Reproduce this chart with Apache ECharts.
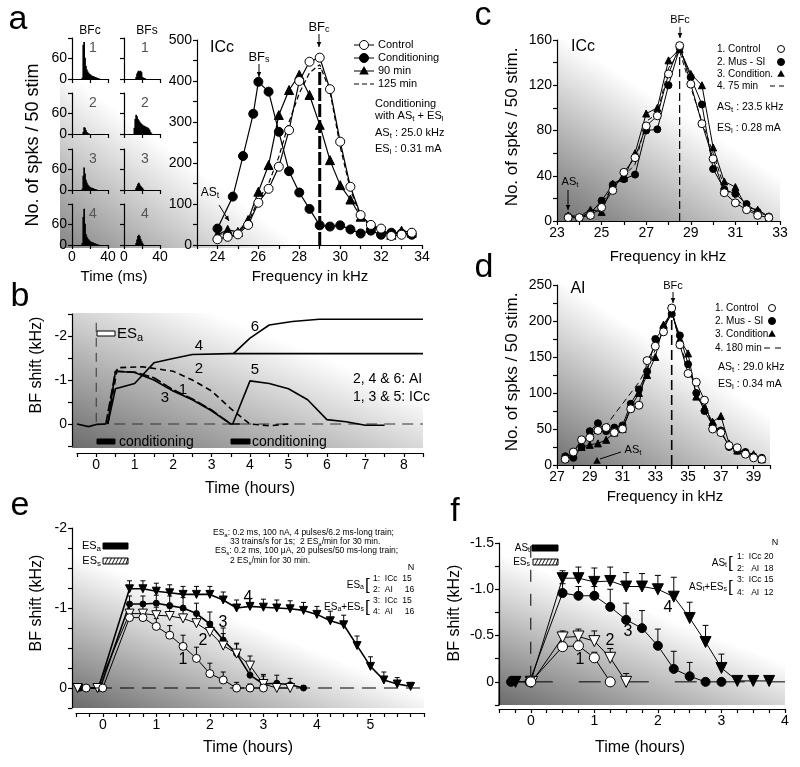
<!DOCTYPE html>
<html><head><meta charset="utf-8">
<script src="https://cdn.jsdelivr.net/npm/echarts/dist/echarts.min.js"></script>
<style>html,body{margin:0;padding:0;background:#fff}#c{width:800px;height:767px}</style>
</head><body><div id="c"></div>
<script>
// ================= DATA =================
// Panel a: PST histograms (spikes per 1-ms bin, first bin starts at histStartMs)
const histStartMs = 10;
const histBFc1 = [0,4,100,108,62,38,28,22,18,15,13,11,9,8,7,6,5,4,3,2,1,0];
const histBFc2 = [0,0,6,20,18,12,6,3,2,0,0,0,0,0,0,0,0,0,0,0,0,0];
const histBFc3 = [0,4,42,66,48,30,22,16,13,10,8,7,6,5,4,3,2,1,0,0,0,0];
const histBFc4 = [0,6,82,106,62,32,24,19,16,13,11,9,8,7,6,5,4,3,2,1,0,0];
const histBFs1 = [0,0,0,6,16,22,24,22,24,20,6,4,3,2,0,0,0,0,0,0,0,0];
const histBFs2 = [0,18,44,56,52,44,40,36,32,30,27,25,24,22,21,20,18,16,12,6,2,0];
const histBFs3 = [0,0,0,6,12,18,21,16,12,9,6,2,0,0,0,0,0,0,0,0,0,0];
const histBFs4 = [0,0,0,6,16,26,30,26,18,12,6,2,0,0,0,0,0,0,0,0,0,0];
const histTickLabels = [0, 60];

// Panel a: frequency tuning curves (kHz, spikes/50 stim)
const freqA     = [24,24.5,25,25.5,26,26.5,27,27.5,28,28.5,29,29.5,30,30.5,31,31.5,32,32.5,33,33.5];
const freqACond = [24,24.75,25.25,25.75,26,26.5,27,27.5,28,28.5,29,29.5,30,30.5,31,31.5,32,32.5,33,33.5];
const aControl  = [14,20,26,49,103,137,191,280,400,447,457,380,252,142,73,49,40,22,25,30];
const aCond     = [40,118,217,320,398,374,276,180,128,88,48,45,48,38,28,35,25,30,28,25];
const a90min    = [25,37,32,61,130,195,317,378,415,366,293,207,146,111,69,50,35,25,35,30];
const a125min   = [25,30,30,55,110,150,215,300,370,420,440,375,240,135,70,45,35,30,25,30];

// Panel b: BF shift time courses (hours, kHz)
const bPreT = [-0.5,-0.2,0,0.25];           const bPreV = [0,0.06,0.01,0];
const b1T = [0.25,0.5,1.0,1.5,2.0,2.5,3.0,3.5,3.8];      const b1V = [0,-1.2,-1.18,-1.05,-0.78,-0.57,-0.32,0,0];
const b2T = [0.3,0.55,1.2,2.0,2.5,3.0,3.5,4.0,4.5,5.0];  const b2V = [0,-1.28,-1.3,-1.2,-1.0,-0.75,-0.35,0,0.04,0];
const b3T = [0.3,0.5,1.0,1.5,2.0,2.5,3.0,3.5];           const b3V = [0,-1.2,-1.17,-1.0,-0.75,-0.55,-0.3,0];
const b4T = [0.3,0.5,1.0,1.5,2.0,2.5,3.5,8.5];           const b4V = [0,-0.8,-0.92,-1.39,-1.49,-1.58,-1.6,-1.6];
const b5T = [3.55,4.0,4.5,5.0,5.5,6.0,6.5,7.0,7.5];      const b5V = [0,-0.98,-0.92,-0.8,-0.55,-0.1,-0.05,0.03,0.03];
const b6T = [3.57,4.0,4.5,5.1,5.8,7.0,8.5];              const b6V = [-1.6,-1.95,-2.25,-2.33,-2.38,-2.38,-2.38];

// Panel c: ICc tuning curves
const freqC = [23.5,24,24.5,25,25.5,26,26.5,27,27.5,28,28.5,29,29.5,30,30.5,31,31.5,32,32.5];
const cControl = [3,3,5,12,27,43,56,84,93,130,155,121,86,55,25,16,10,5,3];
const cMus     = [4,3,7,18,32,37,41,80,81,120,153,127,103,46,28,24,15,8,4];
const cCond    = [5,4,10,8,33,38,60,95,100,142,152,130,120,65,35,30,12,10,4];
const c75min   = [4,3,8,15,30,40,50,88,95,135,150,118,88,60,30,20,12,6,3];

// Panel d: AI tuning curves
const freqD = [27.5,28,28.5,29,29.5,30,30.5,31,31.5,32,32.5,33,33.5,34,34.5,35,35.5,36,36.5,37,37.5,38,38.5,39,39.5];
const dControl = [8,18,35,38,48,52,45,50,78,83,145,165,185,218,167,127,115,90,50,45,27,24,15,10,8];
const dMus     = [12,10,25,47,58,47,52,55,85,105,130,175,190,210,180,140,100,75,55,48,25,20,18,12,10];
const dCond    = [10,15,25,28,30,35,45,50,80,100,125,150,195,212,175,155,95,80,60,68,30,20,18,15,8];
const d180min  = [10,20,30,40,45,55,70,85,100,115,135,160,190,215,170,130,105,85,55,45,28,22,15,10,8];

// Panel e: mean BF shifts (hours, kHz, +error)
const e1T = [-0.31,0,0.5,0.75,1,1.25,1.5,1.75,2,2.25,2.5,2.75,3];
const e1V = [0,0,-0.88,-0.88,-0.77,-0.66,-0.52,-0.37,-0.18,-0.1,0,0,0];
const e1E = [0.03,0.03,0.08,0.08,0.1,0.12,0.14,0.14,0.13,0.1,0.07,0.05,0.03];
const e2T = [-0.47,-0.1,0.5,0.75,1,1.25,1.5,1.75,2,2.25,2.5,2.75,3,3.25,3.5];
const e2V = [0,0,-0.93,-0.93,-0.91,-0.9,-0.87,-0.81,-0.7,-0.53,-0.43,-0.28,-0.05,0,0];
const e2E = [0.05,0.05,0.1,0.1,0.1,0.1,0.1,0.12,0.13,0.15,0.12,0.12,0.1,0.05,0.03];
const e3T = [-0.42,-0.05,0.5,0.75,1,1.25,1.5,1.75,2,2.25,2.5,2.75,3,3.25,3.5,3.75];
const e3V = [0,0,-1.05,-1.05,-1.06,-1.03,-1.0,-0.93,-0.8,-0.6,-0.43,-0.16,-0.05,-0.06,-0.04,0];
const e3E = [0.04,0.04,0.1,0.1,0.1,0.12,0.13,0.13,0.15,0.15,0.13,0.15,0.12,0.1,0.08,0.03];
const e4T = [-0.45,-0.08,0.5,0.75,1,1.25,1.5,1.75,2,2.25,2.5,2.75,3,3.25,3.5,3.75,4,4.25,4.5,4.75,5,5.25,5.5,5.75];
const e4V = [0,0,-1.24,-1.24,-1.21,-1.19,-1.17,-1.17,-1.17,-1.1,-1.0,-1.02,-1.01,-1.0,-0.99,-0.97,-0.92,-0.84,-0.79,-0.53,-0.27,-0.1,-0.05,-0.02];
const e4E = [0.04,0.04,0.1,0.1,0.1,0.1,0.1,0.1,0.1,0.1,0.1,0.1,0.1,0.1,0.1,0.1,0.1,0.12,0.12,0.12,0.12,0.1,0.08,0.05];

// Panel f: mean BF shifts (hours, kHz, +error)
const f1T = [0,0.5,0.75,1.0,1.25];           const f1V = [0,-0.38,-0.39,-0.26,0];      const f1E = [0.03,0.05,0.05,0.06,0.03];
const f2T = [0.02,0.5,0.75,1.0,1.25,1.5];    const f2V = [0,-0.48,-0.49,-0.44,-0.26,0]; const f2E = [0.03,0.07,0.08,0.11,0.1,0.09];
const f3T = [-0.31,-0.02,0.5,0.75,1,1.25,1.5,1.75,2,2.25,2.5,2.75,3];
const f3V = [0,0,-0.96,-0.93,-0.93,-0.81,-0.67,-0.58,-0.39,-0.14,-0.06,0,0];
const f3E = [0.05,0.05,0.1,0.1,0.1,0.19,0.18,0.19,0.18,0.19,0.15,0.02,0.02];
const f4T = [-0.24,0,0.5,0.75,1,1.25,1.5,1.75,2,2.25,2.5,2.75,3,3.25,3.5,3.75];
const f4V = [0,0,-1.12,-1.12,-1.08,-1.09,-1.03,-1.03,-1.0,-0.92,-0.69,-0.43,-0.15,-0.01,-0.01,-0.01];
const f4E = [0.05,0.05,0.08,0.12,0.15,0.15,0.15,0.14,0.15,0.21,0.17,0.18,0.15,0.05,0.05,0.05];

// ================= CHART =================
const FONT = '"Liberation Sans", Arial, Helvetica, sans-serif';
const chart = echarts.init(document.getElementById('c'), null, {renderer:'canvas', width:800, height:767});
const grids = [], xAxes = [], yAxes = [], series = [], gfx = [];
const isMult = (v, s) => Math.abs(v / s - Math.round(v / s)) < 1e-6;

function axis(gi, min, max, interval, fmt, o) {
  o = o || {};
  return {
    type:'value', gridIndex:gi, min:min, max:max, interval:interval, inverse:!!o.inverse, offset:o.offset||0,
    axisLine:{show:true, onZero:false, lineStyle:{color:'#000', width:1.2}},
    axisTick:{show:true, length:o.tick||4, lineStyle:{color:'#000', width:1.2}},
    axisLabel:{show:o.noLabel?false:true, color:'#000', fontFamily:FONT, fontSize:o.fs||14, margin:o.margin||5,
      formatter:fmt, showMinLabel:true, showMaxLabel:true, hideOverlap:false},
    splitLine:{show:false}
  };
}
function addGrid(l, t, w, h) { grids.push({left:l, top:t, width:w, height:h}); return grids.length - 1; }
function pairs(xs, ys) { return xs.map((x, i) => [x, ys[i]]); }
function line(gi, xs, ys, o) {
  o = o || {};
  series.push({type:'line', xAxisIndex:gi, yAxisIndex:gi, data:pairs(xs, ys), silent:true, animation:false,
    symbol:o.symbol||'none', symbolSize:o.size||8, symbolRotate:o.rot||0, z:o.z||3,
    itemStyle:{color:o.fill||'#000', borderColor:'#000', borderWidth:1},
    lineStyle:{color:o.color||'#000', width:o.width||1, type:o.dash||'solid'}});
}
function errBars(gi, xs, ys, es, cap) {
  series.push({type:'custom', xAxisIndex:gi, yAxisIndex:gi, silent:true, animation:false, z:2,
    data: xs.map((x, i) => [x, ys[i], es[i]]),
    renderItem: function (params, api) {
      const x = api.value(0), y = api.value(1), e = api.value(2);
      const p0 = api.coord([x, y]), p1 = api.coord([x, y - e]);
      return {type:'group', children:[
        {type:'line', shape:{x1:p0[0], y1:p0[1], x2:p1[0], y2:p1[1]}, style:{stroke:'#000', lineWidth:1}},
        {type:'line', shape:{x1:p1[0]-cap, y1:p1[1], x2:p1[0]+cap, y2:p1[1]}, style:{stroke:'#000', lineWidth:1}}
      ]};
    }});
}
function T(x, y, text, fs, o) {
  o = o || {};
  const el = {type:'text', x:x, y:y, rotation:o.rot||0, z:100, silent:true,
    style:{text:text, fill:o.color||'#000', fontSize:fs, fontFamily:o.family||FONT, fontWeight:o.weight||'normal',
      align:o.align||'left', verticalAlign:o.va||'middle'}};
  if (o.rich) el.style.rich = o.rich;
  gfx.push(el);
}
function sub(fs) { return {s:{fontSize:Math.round(fs*0.72), fontFamily:FONT, fill:'#000', padding:[Math.round(fs*0.45),0,0,0]}}; }
function L(x1, y1, x2, y2, o) {
  o = o || {};
  gfx.push({type:'line', z:100, silent:true, shape:{x1:x1, y1:y1, x2:x2, y2:y2},
    style:{stroke:'#000', lineWidth:o.w||1, lineDash:o.dash||null}});
}
function arrow(x1, y1, x2, y2, head) {
  head = head || 5;
  L(x1, y1, x2, y2);
  const a = Math.atan2(y2 - y1, x2 - x1), c = Math.cos(a), s = Math.sin(a);
  gfx.push({type:'polygon', z:100, silent:true, shape:{points:[[x2, y2],
    [x2 - head*c + head*0.45*s, y2 - head*s - head*0.45*c],
    [x2 - head*c - head*0.45*s, y2 - head*s + head*0.45*c]]}, style:{fill:'#000'}});
}
function circ(x, y, r, filled) {
  gfx.push({type:'circle', z:101, silent:true, shape:{cx:x, cy:y, r:r}, style:{fill:filled?'#000':'#fff', stroke:'#000', lineWidth:1}});
}
function tri(x, y, r) {
  gfx.push({type:'polygon', z:101, silent:true, shape:{points:[[x, y-r], [x+r*0.95, y+r*0.7], [x-r*0.95, y+r*0.7]]}, style:{fill:'#000'}});
}
function rect(x, y, w, h, fill) {
  gfx.push({type:'rect', z:100, silent:true, shape:{x:x, y:y, width:w, height:h}, style:{fill:fill, stroke:'#000', lineWidth:1}});
}
function hatch(x, y, w, h) {
  rect(x, y, w, h, '#fff');
  for (let i = 2; i < w; i += 3.5) L(x + i, y + h, Math.min(x + i + 3, x + w), y, {w:0.9});
}
function bg(x, y, w, h, x0, y0, x1, y1, stops) {
  gfx.push({type:'rect', z:-10, silent:true, shape:{x:x, y:y, width:w, height:h},
    style:{fill:{type:'linear', x:x0, y:y0, x2:x1, y2:y1, global:true, colorStops:stops}}});
}

// ---------- backgrounds ----------
bg(60, 32, 375, 216, 60, 248, 200, 60, [{offset:0, color:'#858585'}, {offset:0.62, color:'#ffffff'}, {offset:1, color:'#ffffff'}]);
bg(72, 313, 351, 135, 72, 448, 192, 148, [{offset:0, color:'#6c6c6c'}, {offset:0.55, color:'#ffffff'}, {offset:1, color:'#ffffff'}]);
bg(557, 40, 223, 181, 557, 221, 700, 0, [{offset:0, color:'#707070'}, {offset:0.6, color:'#ffffff'}, {offset:1, color:'#ffffff'}]);
bg(557, 285, 213, 180, 557, 465, 700, 245, [{offset:0, color:'#707070'}, {offset:0.6, color:'#ffffff'}, {offset:1, color:'#ffffff'}]);
bg(72, 528, 352, 180, 72, 708, 180, 440, [{offset:0, color:'#6a6a6a'}, {offset:0.5, color:'#ffffff'}, {offset:1, color:'#ffffff'}]);
bg(498, 543, 287, 162, 498, 705, 600, 440, [{offset:0, color:'#6a6a6a'}, {offset:0.5, color:'#ffffff'}, {offset:1, color:'#ffffff'}]);

// ---------- Panel a: histograms ----------
const histCols = [[histBFc1, histBFc2, histBFc3, histBFc4], [histBFs1, histBFs2, histBFs3, histBFs4]];
const rowBase = [79, 134, 190, 245], colLeft = [72, 124], histH = 41, histMax = 120;
histCols.forEach((col, c) => col.forEach((h, r) => {
  const gi = addGrid(colLeft[c], rowBase[r] - histH, 36, histH);
  xAxes.push(axis(gi, 0, 40, 20, v => (v === 0 || v === 40) ? String(v) : '', {noLabel: r !== 3}));
  yAxes.push(axis(gi, 0, histMax, 60, v => '', {noLabel: true}));
  series.push({type:'bar', xAxisIndex:gi, yAxisIndex:gi, barWidth:1.7, silent:true, animation:false,
    itemStyle:{color:'#000'}, data:h.map((v, i) => [histStartMs + i + 0.5, v])});
  T(colLeft[c] + 21, rowBase[r] - 31, String(r + 1), 14, {color:'#555', align:'center'});
}));
// y tick labels of the left histogram column
rowBase.forEach(base => histTickLabels.forEach(v =>
  T(colLeft[0] - 5, base - v / histMax * histH, String(v), 14, {align:'right'})));

// ---------- Panel a: main tuning ----------
const gA = addGrid(197, 40, 225, 205);
xAxes.push(axis(gA, 23, 34, 1, v => isMult(v, 2) ? String(v) : ''));
yAxes.push(axis(gA, 0, 500, 50, v => isMult(v, 100) ? String(v) : ''));
line(gA, [29, 29], [0, 432], {width:3, dash:[13, 3], z:2});
line(gA, freqA, a125min, {dash:[5, 3], width:1.2});
line(gA, freqA, a90min, {symbol:'triangle', size:9, width:1.2});
line(gA, freqACond, aCond, {symbol:'circle', size:9, width:1.2});
line(gA, freqA, aControl, {symbol:'circle', size:9, fill:'#fff', width:1.2, z:4});

// ---------- Panel b ----------
const gB = addGrid(77, 314, 346, 132);
xAxes.push(axis(gB, -0.5, 8.5, 0.5, v => (isMult(v, 1) && v >= 0) ? String(v) : '', {offset:7}));
yAxes.push(axis(gB, -2.5, 0.5, 0.5, v => isMult(v, 1) ? String(v) : '', {inverse:true, offset:5}));
line(gB, [0, 8.5], [0, 0], {dash:[11, 7], color:'#333'});
line(gB, [0, 0], [-2.3, 0], {dash:[9, 6], color:'#333'});
line(gB, bPreT, bPreV, {width:1.6});
line(gB, b1T, b1V, {width:1.6, dash:[10, 3]});
line(gB, b2T, b2V, {width:1.6, dash:[6, 4]});
line(gB, b3T, b3V, {width:1.6});
line(gB, b4T, b4V, {width:1.6});
line(gB, b5T, b5V, {width:1.6});
line(gB, b6T, b6V, {width:1.6});

// ---------- Panel c ----------
const gC = addGrid(557, 40, 223, 181);
xAxes.push(axis(gC, 23, 33, 1, v => !isMult(v, 2) ? String(v) : ''));
yAxes.push(axis(gC, 0, 160, 20, v => isMult(v, 40) ? String(v) : ''));
line(gC, [28.5, 28.5], [0, 150], {dash:[8, 4], width:1.2, z:2});
line(gC, freqC, c75min, {dash:[5, 3]});
line(gC, freqC, cCond, {symbol:'triangle', size:7});
line(gC, freqC, cMus, {symbol:'circle', size:7});
line(gC, freqC, cControl, {symbol:'circle', size:8, fill:'#fff', z:4});

// ---------- Panel d ----------
const gD = addGrid(557, 285, 213, 180);
xAxes.push(axis(gD, 27, 40, 1, v => (!isMult(v, 2) && v < 40) ? String(v) : ''));
yAxes.push(axis(gD, 0, 250, 25, v => isMult(v, 50) ? String(v) : ''));
line(gD, [34, 34], [0, 205], {dash:[10, 5], width:1.6, z:2});
line(gD, freqD, d180min, {dash:[6, 4]});
line(gD, freqD, dCond, {symbol:'triangle', size:7});
line(gD, freqD, dMus, {symbol:'circle', size:7});
line(gD, freqD, dControl, {symbol:'circle', size:8, fill:'#fff', z:4});

// ---------- Panel e ----------
const gE = addGrid(76, 528, 348, 180);
xAxes.push(axis(gE, -0.5, 6, 0.25, v => (isMult(v, 1) && v >= 0 && v <= 5) ? String(v) : '', {offset:5}));
yAxes.push(axis(gE, -2, 0.25, 0.25, v => isMult(v, 1) ? String(v) : '', {inverse:true, offset:4}));
line(gE, [-0.5, 6], [0, 0], {dash:[14, 8], width:1.2, z:1});
errBars(gE, e4T, e4V, e4E, 2.5); errBars(gE, e3T, e3V, e3E, 2.5);
errBars(gE, e2T, e2V, e2E, 2.5); errBars(gE, e1T, e1V, e1E, 2.5);
line(gE, e4T, e4V, {symbol:'triangle', rot:180, size:8, width:1.6});
line(gE, e3T, e3V, {symbol:'circle', size:6, width:1.6});
line(gE, e2T, e2V, {symbol:'triangle', rot:180, size:9, fill:'#fff'});
line(gE, e1T, e1V, {symbol:'circle', size:8, fill:'#fff', z:4});

// ---------- Panel f ----------
const gF = addGrid(499, 543, 286, 162);
xAxes.push(axis(gF, -0.5, 4, 0.25, v => (isMult(v, 1) && v >= 0) ? String(v) : '', {offset:4}));
yAxes.push(axis(gF, -1.5, 0.25, 0.25, v => isMult(v, 0.5) ? (Math.abs(v) < 1e-9 ? '0' : v.toFixed(1)) : '', {inverse:true}));
line(gF, [0, 4], [0, 0], {dash:[22, 26], width:1, z:1});
line(gF, [0, 0], [-1.47, 0], {dash:[12, 12], width:1, z:1});
errBars(gF, f4T, f4V, f4E, 3); errBars(gF, f3T, f3V, f3E, 3);
errBars(gF, f2T, f2V, f2E, 3); errBars(gF, f1T, f1V, f1E, 3);
line(gF, f4T, f4V, {symbol:'triangle', rot:180, size:11});
line(gF, f3T, f3V, {symbol:'circle', size:9});
line(gF, f2T, f2V, {symbol:'triangle', rot:180, size:11, fill:'#fff'});
line(gF, f1T, f1V, {symbol:'circle', size:10, fill:'#fff', z:4});

// ---------- Texts & annotations ----------
T(18, 20, 'a', 34, {align:'center'}); T(20, 297, 'b', 34, {align:'center'});
T(483, 16, 'c', 34, {align:'center'}); T(484, 268, 'd', 34, {align:'center'});
T(20, 506, 'e', 34, {align:'center'}); T(455, 512, 'f', 34, {align:'center'});

// panel a
T(33, 145, 'No. of spks / 50 stim', 18, {rot:Math.PI/2, align:'center'});
T(114, 277, 'Time (ms)', 15, {align:'center'});
T(310, 277, 'Frequency in kHz', 15, {align:'center'});
T(90, 31, 'BFc', 12, {align:'center'});
T(147, 31, 'BFs', 12, {align:'center'});
T(210, 48, 'ICc', 16);
T(259, 57, 'BF{s|s}', 13, {align:'center', rich:sub(13)});
arrow(259, 64, 259, 77);
T(319, 27, 'BF{s|c}', 13, {align:'center', rich:sub(13)});
arrow(319, 34, 319, 47);
T(210, 193, 'AS{s|t}', 12, {align:'center', rich:sub(12)});
arrow(219, 205, 229, 221);
L(354, 45, 374, 45); circ(364, 45, 4.5, false); T(378, 45, 'Control', 11);
L(354, 58, 374, 58); circ(364, 58, 4.5, true); T(378, 58, 'Conditioning', 11);
L(354, 71, 374, 71); tri(364, 71, 5); T(378, 71, '90 min', 11);
L(354, 84, 374, 84, {dash:[5, 3]}); T(378, 84, '125 min', 11);
T(375, 104, 'Conditioning', 11);
T(375, 116, 'with AS{s|t} + ES{s|l}', 11, {rich:sub(11)});
T(375, 133, 'AS{s|t} : 25.0 kHz', 11, {rich:sub(11)});
T(375, 149, 'ES{s|l} : 0.31 mA', 11, {rich:sub(11)});

// panel b
T(37, 365, 'BF shift (kHz)', 16, {rot:Math.PI/2, align:'center'});
T(250, 489, 'Time (hours)', 16, {align:'center'});
rect(97, 331, 18, 5, '#fff'); T(117, 334, 'ES{s|a}', 15, {rich:sub(15)});
rect(97, 439, 18, 5, '#000'); T(119, 442, 'conditioning', 14);
rect(231, 439, 19, 5, '#000'); T(252, 442, 'conditioning', 14);
T(255, 327, '6', 15, {align:'center'}); T(199, 346, '4', 15, {align:'center'});
T(199, 369, '2', 15, {align:'center'}); T(183, 390, '1', 15, {align:'center'});
T(165, 398, '3', 15, {align:'center'}); T(255, 370, '5', 15, {align:'center'});
T(353, 379, '2, 4 & 6: AI', 14); T(353, 397, '1, 3 & 5: ICc', 14);

// panel c
T(512, 127, 'No. of spks / 50 stim.', 17, {rot:Math.PI/2, align:'center'});
T(668, 257, 'Frequency in kHz', 15, {align:'center'});
T(583, 47, 'ICc', 16, {align:'center'});
T(680, 20, 'BFc', 11, {align:'center'}); arrow(680, 27, 680, 38);
T(570, 182, 'AS{s|t}', 11, {align:'center', rich:sub(11)}); arrow(568, 190, 568, 210);
T(717, 49, '1. Control', 10); circ(781, 49, 3.5, false);
T(717, 62, '2. Mus - SI', 10); circ(781, 62, 3.5, true);
T(717, 74, '3. Condition.', 10); tri(781, 74, 4);
T(717, 86, '4. 75 min', 10); L(770, 86, 775, 86); L(779, 86, 784, 86);
T(717, 107, 'AS{s|t} : 23.5 kHz', 10.5, {rich:sub(10.5)});
T(717, 128, 'ES{s|l} : 0.28 mA', 10.5, {rich:sub(10.5)});

// panel d
T(512, 372, 'No. of spks / 50 stim.', 17, {rot:Math.PI/2, align:'center'});
T(665, 497, 'Frequency in kHz', 15, {align:'center'});
T(578, 289, 'AI', 16, {align:'center'});
T(673, 286, 'BFc', 11, {align:'center'}); arrow(673, 292, 673, 303);
T(633, 450, 'AS{s|t}', 11, {align:'center', rich:sub(11)});
L(621, 452, 600, 459); tri(597, 461, 4);
T(715, 308, '1. Control', 10); circ(772, 308, 3.5, false);
T(715, 321, '2. Mus - SI', 10); circ(772, 321, 3.5, true);
T(715, 334, '3. Condition.', 10); tri(772, 334, 4);
T(715, 348, '4. 180 min', 10); L(764, 348, 770, 348); L(775, 348, 781, 348);
T(718, 367, 'AS{s|t} : 29.0 kHz', 10.5, {rich:sub(10.5)});
T(718, 384, 'ES{s|l} : 0.34 mA', 10.5, {rich:sub(10.5)});

// panel e
T(37, 603, 'BF shift (kHz)', 16, {rot:Math.PI/2, align:'center'});
T(248, 748, 'Time (hours)', 16, {align:'center'});
T(101, 546, 'ES{s|a}', 11, {align:'right', rich:sub(11)}); rect(103, 543, 25, 6, '#000');
T(101, 561, 'ES{s|s}', 11, {align:'right', rich:sub(11)}); hatch(103, 558, 25, 6);
T(213, 533, 'ES{s|a}: 0.2 ms, 100 nA, 4 pulses/6.2 ms-long train;', 8.5, {rich:sub(8.5)});
T(230, 542, '33 trains/s for 1s;  2 ES{s|a}/min for 30 min.', 8.5, {rich:sub(8.5)});
T(215, 551, 'ES{s|s}: 0.2 ms, 100 \u03bcA, 20 pulses/50 ms-long train;', 8.5, {rich:sub(8.5)});
T(230, 561, '2 ES{s|s}/min for 30 min.', 8.5, {rich:sub(8.5)});
T(411, 568, 'N', 9, {align:'center'});
T(364, 585, 'ES{s|a}', 10, {align:'right', rich:sub(10)}); T(365, 585, '[', 17);
T(373, 579, '1:  ICc  15', 8.5); T(373, 590, '2:  AI     16', 8.5);
T(364, 607, 'ES{s|a}+ES{s|s}', 10, {align:'right', rich:sub(10)}); T(365, 607, '[', 17);
T(373, 601, '3:  ICc  15', 8.5); T(373, 612, '4:  AI     16', 8.5);
T(183, 660, '1', 16, {align:'center'}); T(203, 641, '2', 16, {align:'center'});
T(223, 623, '3', 16, {align:'center'}); T(248, 598, '4', 16, {align:'center'});

// panel f
T(455, 613, 'BF shift (kHz)', 16, {rot:Math.PI/2, align:'center'});
T(640, 748, 'Time (hours)', 16, {align:'center'});
T(530, 548, 'AS{s|t}', 10, {align:'right', rich:sub(10)}); rect(532, 545, 26, 6, '#000');
T(530, 562, 'ES{s|s}', 10, {align:'right', rich:sub(10)}); hatch(533, 559, 25, 6);
T(775, 543, 'N', 9, {align:'center'});
T(727, 563, 'AS{s|t}', 10, {align:'right', rich:sub(10)}); T(728, 563, '[', 17);
T(737, 557, '1:  ICc 20', 8.5); T(737, 569, '2:   AI  18', 8.5);
T(727, 587, 'AS{s|t}+ES{s|s}', 10, {align:'right', rich:sub(10)}); T(728, 587, '[', 17);
T(737, 580, '3:  ICc 15', 8.5); T(737, 593, '4:   AI  12', 8.5);
T(580, 660, '1', 16, {align:'center'}); T(610, 641, '2', 16, {align:'center'});
T(628, 632, '3', 16, {align:'center'}); T(668, 608, '4', 16, {align:'center'});

chart.setOption({
  animation:false,
  backgroundColor:'#ffffff',
  textStyle:{fontFamily:FONT},
  grid:grids, xAxis:xAxes, yAxis:yAxes, series:series,
  graphic:{elements:gfx}
});
</script></body></html>
